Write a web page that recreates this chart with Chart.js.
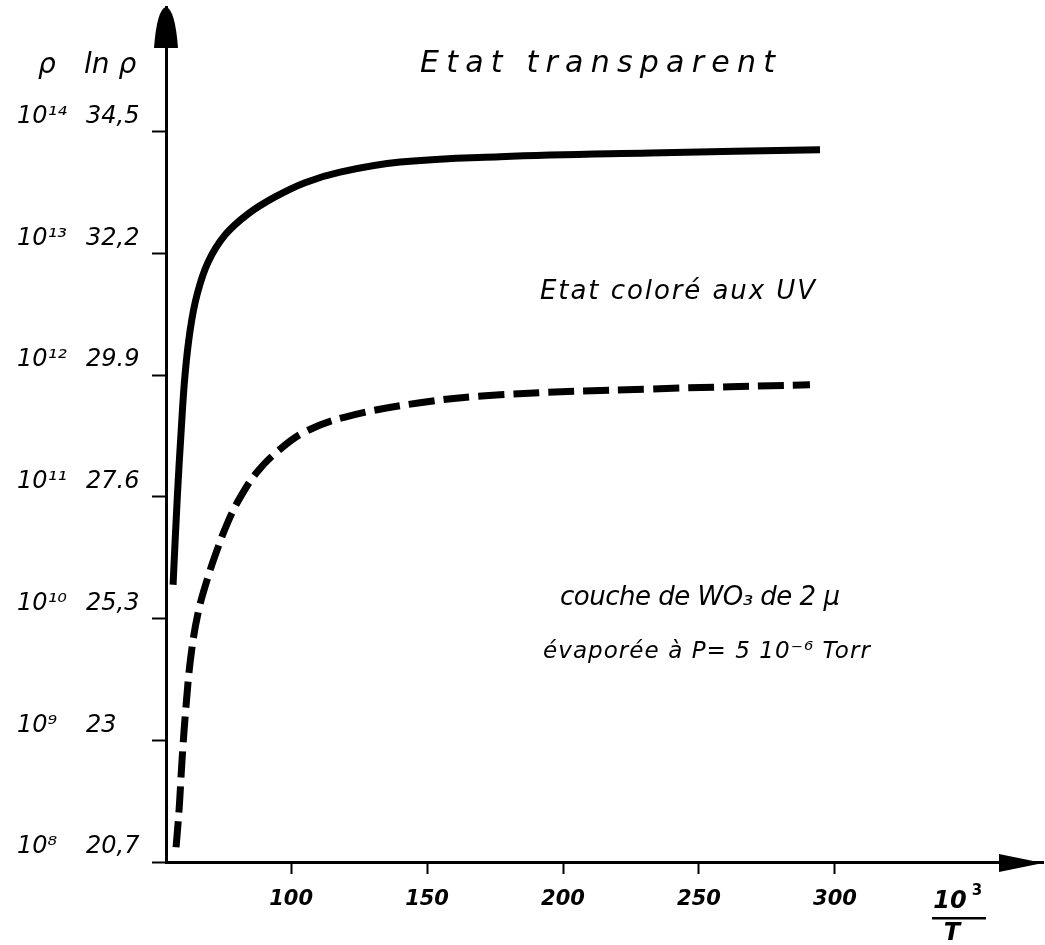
<!DOCTYPE html>
<html lang="fr">
<head>
<meta charset="UTF-8">
<title>Résistivité d'une couche de WO3</title>
<script src="https://cdn.jsdelivr.net/npm/chart.js@4.4.0/dist/chart.umd.min.js"></script>
<style>
  html, body { margin: 0; padding: 0; background: #fff; }
  #wrap { width: 1045px; height: 945px; }
</style>
</head>
<body>
<div id="wrap"><canvas id="rhoChart"></canvas></div>
<script>
// graduations
const lnTicks = [20.7, 23, 25.3, 27.6, 29.9, 32.2, 34.5];
const lnLabels = ['20,7', '23', '25,3', '27.6', '29.9', '32,2', '34,5'];
const rhoLabels = ['10⁸', '10⁹', '10¹⁰', '10¹¹', '10¹²', '10¹³', '10¹⁴'];
const xTicks = [100, 150, 200, 250, 300];

// état transparent (trait plein) : 10^3/T , ln rho
const transpX = [56.6, 58.1, 59.6, 61.0, 62.9, 65.4, 69.5, 75.7, 84.2, 94.1, 105.1, 118.0, 140.1, 176.8, 232.0, 294.5];
const transpY = [25.94, 27.54, 28.87, 29.91, 30.76, 31.42, 32.04, 32.55, 32.95, 33.27, 33.54, 33.74, 33.93, 34.03, 34.10, 34.16];

// état coloré aux UV (tirets)
const colorX = [57.7, 58.8, 59.9, 61.4, 63.2, 65.8, 69.1, 72.8, 76.8, 81.6, 87.5, 95.2, 105.1, 119.9, 147.4, 176.8, 232.0, 290.8];
const colorY = [20.98, 21.68, 22.63, 23.67, 24.61, 25.41, 26.03, 26.60, 27.13, 27.62, 28.07, 28.47, 28.83, 29.11, 29.38, 29.53, 29.64, 29.72];

const pts = (xs, ys) => xs.map((x, i) => ({ x: x, y: ys[i] }));

const hand = 'DejaVu Sans';

// texte étiré à une largeur donnée
function drawFit(ctx, text, x, y, width, font) {
  ctx.font = font;
  ctx.letterSpacing = '0px';
  const w0 = ctx.measureText(text).width;
  const sp = Math.max(-1, (width - w0) / Math.max(1, text.length - 1));
  ctx.letterSpacing = sp.toFixed(2) + 'px';
  ctx.fillText(text, x, y);
  ctx.letterSpacing = '0px';
}

// pas de marge auto en haut/bas pour les axes verticaux
function fitY(w) {
  return s => { s.width = w; s.paddingTop = 0; s.paddingBottom = 0; };
}

const decor = {
  id: 'decor',
  afterDraw(chart) {
    const ctx = chart.ctx;
    const a = chart.chartArea;
    ctx.save();
    ctx.fillStyle = '#000';

    // flèche de l'axe vertical
    ctx.beginPath();
    ctx.moveTo(a.left - 12, a.top + 41);
    ctx.quadraticCurveTo(a.left - 9, a.top + 2, a.left, a.top);
    ctx.quadraticCurveTo(a.left + 9, a.top + 2, a.left + 12, a.top + 41);
    ctx.closePath();
    ctx.fill();

    // flèche de l'axe horizontal
    ctx.beginPath();
    ctx.moveTo(a.right - 44, a.bottom - 8);
    ctx.lineTo(a.right, a.bottom + 1);
    ctx.lineTo(a.right - 44, a.bottom + 10);
    ctx.closePath();
    ctx.fill();

    ctx.textBaseline = 'middle';
    ctx.textAlign = 'left';

    // en-têtes des colonnes
    ctx.font = 'italic 28px ' + hand;
    ctx.fillText('ρ', 38, 66);
    ctx.fillText('ln ρ', 84, 66);

    // 10^3 / T
    ctx.textAlign = 'center';
    ctx.font = 'italic bold 24px ' + hand;
    ctx.fillText('10', 950, 902);
    ctx.font = 'bold 15px ' + hand;
    ctx.fillText('3', 977, 891);
    ctx.fillRect(932, 917, 54, 2.5);
    ctx.font = 'italic bold 24px ' + hand;
    ctx.fillText('T', 952, 934);

    // annotations
    ctx.textAlign = 'left';
    drawFit(ctx, 'Etat transparent', 420, 64, 355, 'italic 30px ' + hand);
    drawFit(ctx, 'Etat coloré aux UV', 540, 292, 275, 'italic 26px ' + hand);
    drawFit(ctx, 'couche de WO₃ de 2 μ', 560, 598, 280, 'italic 26px ' + hand);
    drawFit(ctx, 'évaporée à P= 5 10⁻⁶ Torr', 543, 652, 327, 'italic 23px ' + hand);
    ctx.restore();
  }
};

new Chart(document.getElementById('rhoChart'), {
  type: 'line',
  data: {
    datasets: [
      {
        label: 'Etat transparent',
        data: pts(transpX, transpY),
        borderColor: '#000',
        borderWidth: 7,
        pointRadius: 0,
        tension: 0.4,
        fill: false
      },
      {
        label: 'Etat coloré aux UV',
        data: pts(colorX, colorY),
        borderColor: '#000',
        borderWidth: 7,
        borderDash: [26, 9],
        borderCapStyle: 'butt',
        pointRadius: 0,
        tension: 0.4,
        fill: false
      }
    ]
  },
  options: {
    responsive: true,
    maintainAspectRatio: false,
    animation: false,
    layout: { padding: { left: 17, top: 7, right: 2, bottom: 0 } },
    plugins: {
      legend: { display: false },
      tooltip: { enabled: false }
    },
    scales: {
      x: {
        type: 'linear',
        min: 54,
        max: 376.5,
        afterBuildTicks: s => { s.ticks = xTicks.map(v => ({ value: v })); },
        afterFit: s => { s.height = 83; },
        border: { display: true, color: '#000', width: 3 },
        grid: { drawOnChartArea: false, drawTicks: true, tickLength: 12, tickWidth: 2, color: '#000' },
        ticks: {
          color: '#000',
          padding: 13,
          font: { family: hand, size: 21, style: 'italic', weight: 'bold' }
        }
      },
      y: {
        type: 'linear',
        position: 'left',
        weight: 0,
        min: 20.7,
        max: 36.86,
        afterBuildTicks: s => { s.ticks = lnTicks.map(v => ({ value: v })); },
        afterFit: fitY(80),
        border: { display: true, color: '#000', width: 3 },
        grid: { drawOnChartArea: false, drawTicks: true, tickLength: 14, tickWidth: 2, color: '#000' },
        ticks: {
          color: '#000',
          crossAlign: 'far',
          labelOffset: -15,
          callback: (v, i) => lnLabels[i],
          font: { family: hand, size: 24, style: 'italic' }
        }
      },
      rho: {
        type: 'linear',
        position: 'left',
        weight: 1,
        min: 20.7,
        max: 36.86,
        afterBuildTicks: s => { s.ticks = lnTicks.map(v => ({ value: v })); },
        afterFit: fitY(69),
        border: { display: false },
        grid: { display: false },
        ticks: {
          color: '#000',
          crossAlign: 'far',
          labelOffset: -15,
          callback: (v, i) => rhoLabels[i],
          font: { family: hand, size: 24, style: 'italic' }
        }
      }
    }
  },
  plugins: [decor]
});
</script>
</body>
</html>
